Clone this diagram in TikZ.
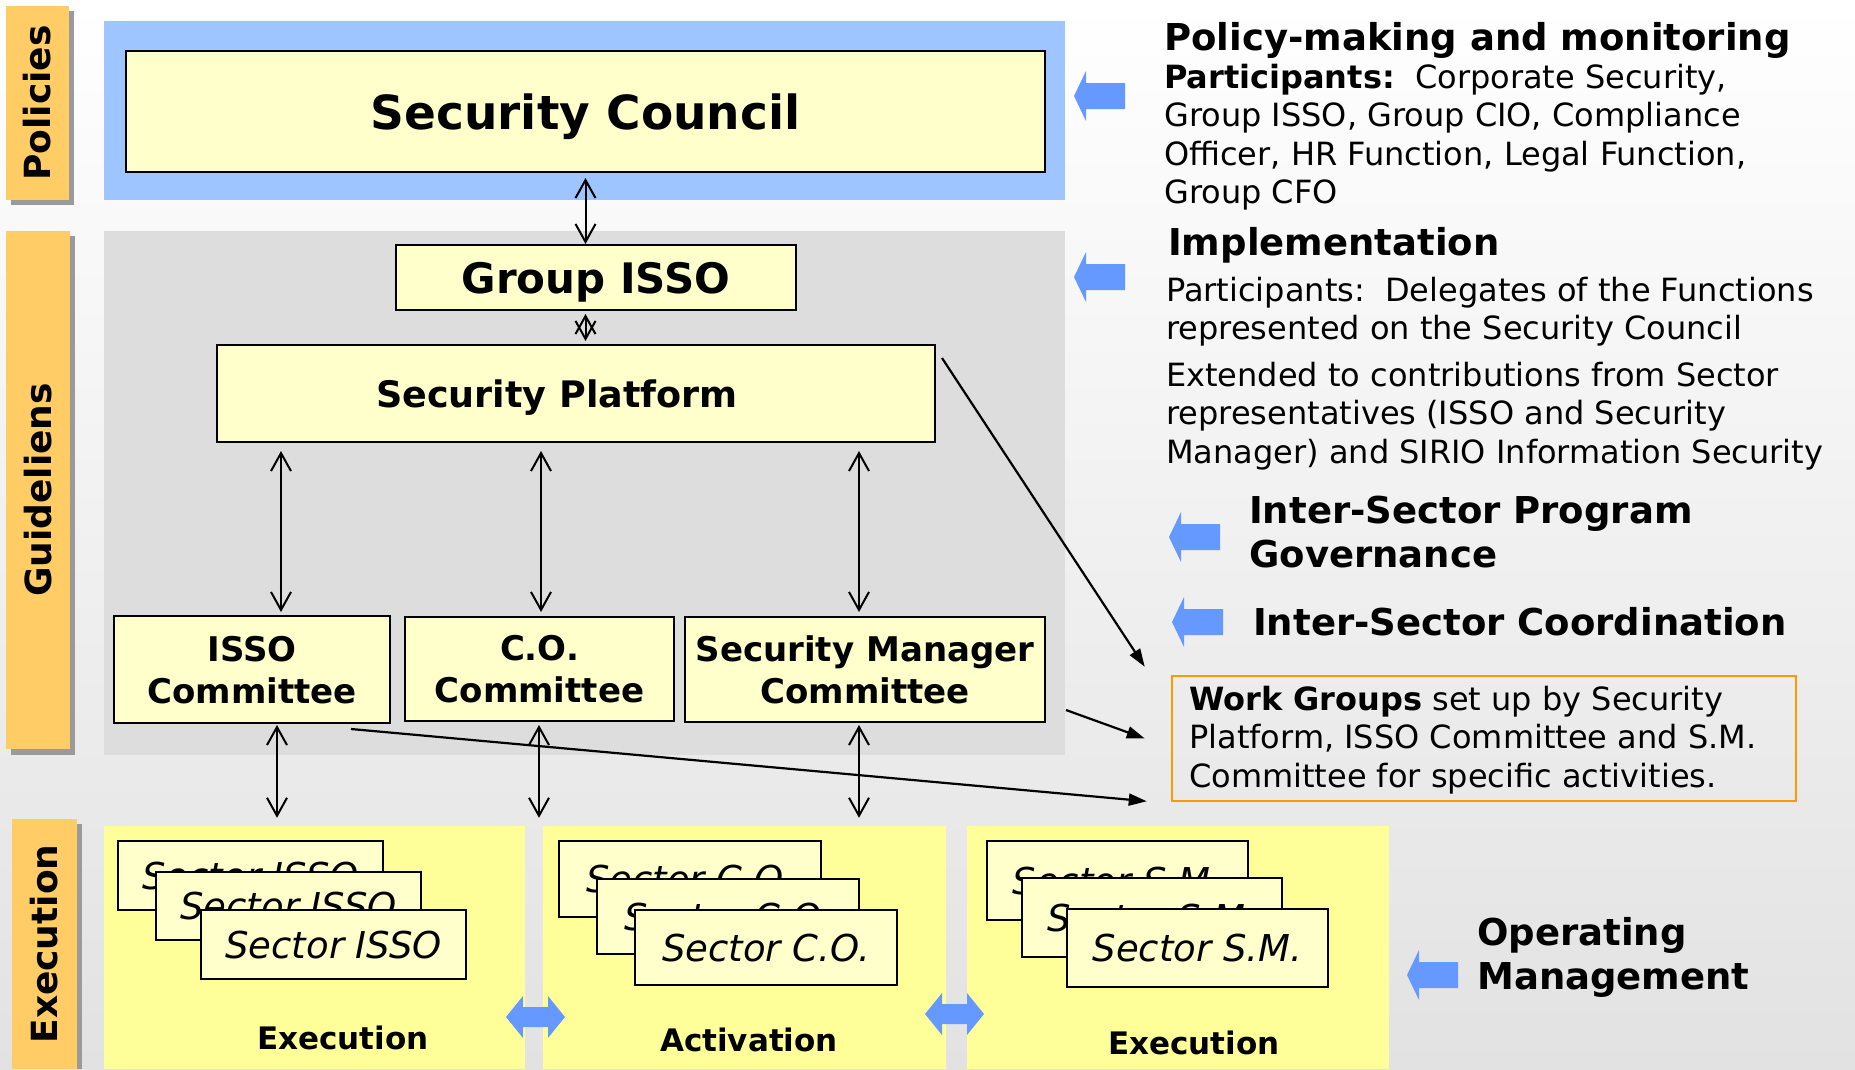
\documentclass[tikz,border=0pt]{standalone}
\usepackage{fontspec}
\setmainfont{DejaVu Sans}
\usetikzlibrary{arrows.meta,calc}
\definecolor{boxyellow}{HTML}{FFFFCC}
\definecolor{execyellow}{HTML}{FFFF99}
\definecolor{polblue}{RGB}{158,197,255}
\definecolor{guidegray}{HTML}{DDDDDD}
\definecolor{taborange}{HTML}{FFCC66}
\definecolor{tabshadow}{HTML}{9A9A9A}
\definecolor{arrblue}{HTML}{6699FF}
\definecolor{wgorange}{HTML}{FF9900}
\definecolor{bgmid}{HTML}{EBEBEB}
\definecolor{bgbot}{HTML}{E2E2E2}
\newcommand\fsz[2]{\fontsize{#1}{#2}\selectfont}
\newcommand\rows[1]{\begin{tabular}[t]{@{}l@{}}#1\end{tabular}}
\begin{document}
\begin{tikzpicture}[x=1pt,y=-1pt,
  ybox/.style={draw=black,line width=2pt,fill=boxyellow,inner sep=0pt,align=center,text depth=0pt},
  secbox/.style={draw=black,line width=2pt,fill=boxyellow,inner sep=0pt,text depth=0pt,font=\itshape\fsz{37}{44}},
  execbox/.style={fill=execyellow,inner sep=0pt,minimum height=243pt},
  tabtext/.style={rotate=90,font=\bfseries\fsz{36}{40},inner sep=0pt},
  dbl/.style={line width=2pt,{Straight Barb[length=18pt,width=20pt]}-{Straight Barb[length=18pt,width=20pt]}},
  diag/.style={line width=2.2pt,-{Triangle[length=18pt,width=12pt]}},
  head/.style={anchor=base west,inner sep=0pt,font=\bfseries\fsz{37}{44}},
  body/.style={anchor=base west,inner sep=0pt,font=\fsz{32}{38.5}},
  sublabel/.style={anchor=base,inner sep=0pt,font=\bfseries\fsz{31}{38}},
  larrow/.pic={\fill[arrblue] (0,0) -- (12,-25) -- (12,-13) -- (51,-13) -- (51,13) -- (12,13) -- (12,25) -- cycle;},
  harrow/.pic={\fill[arrblue] (0,0) -- (17,-21) -- (17,-10) -- (42,-10) -- (42,-21) -- (59,0) -- (42,21) -- (42,10) -- (17,10) -- (17,21) -- cycle;}
]
\useasboundingbox (0,0) rectangle (1855,1069);
\shade[top color=white,middle color=bgmid,bottom color=bgbot] (0,0) rectangle (1855,1069);

% side tabs
\fill[tabshadow] (11,11) rectangle (74,205);
\fill[taborange] (6,6) rectangle (69,200);
\node[tabtext] (tpol) at (37.5,103) {Policies};
\fill[tabshadow] (11,236) rectangle (75,755);
\fill[taborange] (6,231) rectangle (70,749);
\node[tabtext] (tguide) at (38,490) {Guideliens};
\fill[tabshadow] (17,824) rectangle (82,1069);
\fill[taborange] (12,819) rectangle (77,1069);
\node[tabtext] (texec) at (44.5,944) {Execution};

% regions
\fill[polblue] (104,21) rectangle (1065,200);
\fill[guidegray] (104,231) rectangle (1065,755);

% execution boxes
\node[execbox,minimum width=421pt] (e1) at (314.5,947.5) {};
\node[execbox,minimum width=403pt] (e2) at (744.5,947.5) {};
\node[execbox,minimum width=422pt] (e3) at (1178,947.5) {};
\node[sublabel] (l1) at (343,1049) {Execution};
\node[sublabel] (l2) at (749,1051) {Activation};
\node[sublabel] (l3) at (1194,1054) {Execution};

% sector stacks
\node[secbox,minimum width=265pt,minimum height=69pt] (s1a) at (250.5,875.5) {Sector ISSO};
\node[secbox,minimum width=265pt,minimum height=68pt] (s1b) at (288.5,906) {Sector ISSO};
\node[secbox,minimum width=265pt,minimum height=69pt] (s1c) at (333.5,944.5) {Sector ISSO};
\node[secbox,minimum width=262pt,minimum height=76pt] (s2a) at (690,879) {Sector C.O.};
\node[secbox,minimum width=262pt,minimum height=75pt] (s2b) at (728,916.5) {Sector C.O.};
\node[secbox,minimum width=262pt,minimum height=75pt] (s2c) at (766,947.5) {Sector C.O.};
\node[secbox,minimum width=261pt,minimum height=79pt] (s3a) at (1117.5,880.5) {Sector S.M.};
\node[secbox,minimum width=260pt,minimum height=79pt] (s3b) at (1152,917.5) {Sector S.M.};
\node[secbox,minimum width=261pt,minimum height=78pt] (s3c) at (1197.5,948) {Sector S.M.};

% main boxes
\node[ybox,minimum width=919pt,minimum height=121pt,font=\bfseries\fsz{47}{56}] (sc) at (585.5,111.5) {Security Council};
\node[ybox,minimum width=400pt,minimum height=65pt,font=\bfseries\fsz{42}{50}] (gi) at (596,277.5) {Group ISSO};
\node[ybox,minimum width=718pt,minimum height=97pt,font=\bfseries\fsz{36.5}{44}] (sp) at (576,393.5) {Security Platform\hspace*{38pt}};
\node[ybox,minimum width=276pt,minimum height=107pt,font=\bfseries\fsz{34}{42}] (ic) at (252,669.5) {ISSO\\Committee};
\node[ybox,minimum width=269pt,minimum height=104pt,font=\bfseries\fsz{34}{42}] (coc) at (539.5,669) {C.O.\\Committee};
\node[ybox,minimum width=360pt,minimum height=105pt,font=\bfseries\fsz{34}{42}] (smc) at (865,669.5) {Security Manager\\Committee};

% work groups box
\node[draw=wgorange,line width=2.5pt,minimum width=624pt,minimum height=125pt,inner sep=0pt] (wg) at (1484,738.5) {};
\node[body] (wgt) at (1189,710) {\rows{\textbf{Work Groups} set up by Security\\ Platform, ISSO Committee and S.M.\\ Committee for specific activities.}};

% vertical double arrows
\draw[dbl] ($(sc.south)+(0,5)$) -- (sc.south |- gi.north);
\draw[dbl] ($(gi.south -| sc.south)+(0,3)$) -- ($(sp.north -| sc.south)+(0,-3)$);
\draw[dbl] ($(sp.south -| ic.north)+(29,8)$) -- ($(ic.north)+(29,-3)$);
\draw[dbl] ($(sp.south -| coc.north)+(1.5,8)$) -- ($(coc.north)+(1.5,-4)$);
\draw[dbl] ($(sp.south -| smc.north)+(-6,8)$) -- ($(smc.north)+(-6,-4)$);
\draw[dbl] ($(ic.south)+(25,1)$) -- ($(ic.south |- e1.north)+(25,-8)$);
\draw[dbl] ($(coc.south)+(-0.5,3)$) -- ($(coc.south |- e1.north)+(-0.5,-8)$);
\draw[dbl] ($(smc.south)+(-6,2)$) -- ($(smc.south |- e3.north)+(-6,-8)$);

% diagonal arrows to work groups
\draw[diag] ($(sp.north east)+(6,14)$) -- ($(wg.north west)+(-26,-8)$);
\draw[diag] ($(smc.south east)+(20,-13)$) -- ($(wg.west)+(-26,0)$);
\draw[diag] ($(ic.south)+(99,5)$) -- ($(wg.south west)+(-24,-1)$);

% blue arrows
\pic at (1074,96) {larrow};
\pic at (1074,277) {larrow};
\pic at (1169,537) {larrow};
\pic at (1172,622) {larrow};
\pic at (1407,975) {larrow};
\pic at (506,1017) {harrow};
\pic at (925,1014) {harrow};

% right texts
\node[head] (pmt) at (1164,50) {Policy-making and monitoring};
\node[body] (pmb) at (1164,88) {\rows{\textbf{Participants:}\ \ Corporate Security,\\ Group ISSO, Group CIO, Compliance\\ Officer, HR Function, Legal Function,\\ Group CFO}};
\node[head] (impt) at (1168,255) {Implementation};
\node[body] (impb) at (1166,301) {\rows{Participants:\ \ Delegates of the Functions\\ represented on the Security Council}};
\node[body] (extb) at (1166,386) {\rows{Extended to contributions from Sector\\ representatives (ISSO and Security\\ Manager) and SIRIO Information Security}};
\node[head] (isg) at (1249,523) {\rows{Inter-Sector Program\\ Governance}};
\node[head] (isc) at (1253,635) {Inter-Sector Coordination};
\node[head] (om) at (1477,945) {\rows{Operating\\ Management}};
\end{tikzpicture}
\end{document}
